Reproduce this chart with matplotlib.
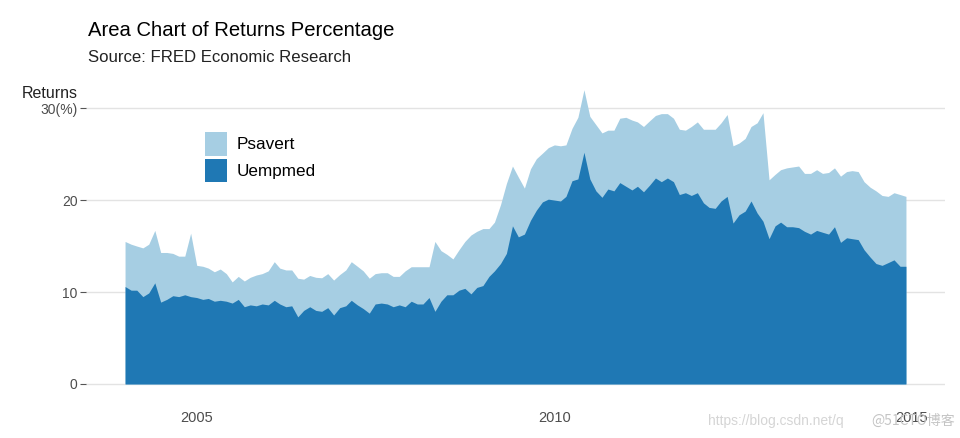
import numpy as np
import pandas as pd
import matplotlib
matplotlib.use("Agg")
import matplotlib.pyplot as plt
import matplotlib.dates as mdates
from matplotlib.patches import Patch

# ---- data (monthly, Jan 2004 .. Dec 2014) ----
dates = pd.date_range("2004-01-01", "2014-12-01", freq="MS")

uempmed = [
    10.6, 10.2, 10.2, 9.5, 9.9, 11.0, 8.9, 9.2, 9.6, 9.5, 9.7, 9.5,
    9.4, 9.2, 9.3, 9.0, 9.1, 9.0, 8.8, 9.2, 8.4, 8.6, 8.5, 8.7,
    8.6, 9.1, 8.7, 8.4, 8.5, 7.3, 8.0, 8.4, 8.0, 7.9, 8.3, 7.5,
    8.3, 8.5, 9.1, 8.6, 8.2, 7.7, 8.7, 8.8, 8.7, 8.4, 8.6, 8.4,
    9.0, 8.7, 8.7, 9.4, 7.9, 9.0, 9.7, 9.7, 10.2, 10.4, 9.8, 10.5,
    10.7, 11.7, 12.3, 13.1, 14.2, 17.2, 16.0, 16.3, 17.8, 18.9, 19.8, 20.1,
    20.0, 19.9, 20.4, 22.1, 22.3, 25.2, 22.3, 21.0, 20.3, 21.2, 21.0, 21.9,
    21.5, 21.1, 21.5, 20.9, 21.6, 22.4, 22.0, 22.4, 22.0, 20.6, 20.8, 20.5,
    20.8, 19.7, 19.2, 19.1, 19.9, 20.4, 17.5, 18.4, 18.8, 19.9, 18.6, 17.7,
    15.8, 17.2, 17.6, 17.1, 17.1, 17.0, 16.6, 16.3, 16.7, 16.5, 16.3, 17.1,
    15.4, 15.9, 15.8, 15.7, 14.6, 13.8, 13.1, 12.9, 13.2, 13.5, 12.8, 12.8,
]

psavert = [
    4.9, 5.0, 4.8, 5.3, 5.3, 5.7, 5.4, 5.1, 4.6, 4.4, 4.2, 6.9,
    3.5, 3.6, 3.3, 3.2, 3.4, 3.0, 2.3, 2.5, 2.8, 3.0, 3.35, 3.3,
    3.7, 4.2, 3.9, 4.0, 3.9, 4.2, 3.4, 3.4, 3.6, 3.65, 3.7, 3.8,
    3.6, 3.9, 4.2, 4.2, 4.1, 3.8, 3.3, 3.3, 3.4, 3.3, 3.1, 3.9,
    3.75, 4.05, 4.05, 3.35, 7.6, 5.5, 4.4, 3.9, 4.4, 5.1, 6.4, 6.1,
    6.2, 5.2, 5.3, 6.4, 7.6, 6.5, 6.5, 5.0, 5.6, 5.6, 5.3, 5.6,
    6.0, 6.0, 5.6, 5.7, 6.7, 6.8, 6.8, 7.2, 7.0, 6.4, 6.6, 7.0,
    7.5, 7.6, 7.0, 7.1, 7.0, 6.8, 7.4, 7.0, 6.9, 7.1, 6.8, 7.5,
    7.7, 8.0, 8.5, 8.6, 8.5, 8.9, 8.4, 7.8, 7.9, 8.1, 9.8, 11.8,
    6.4, 5.6, 5.7, 6.4, 6.5, 6.7, 6.3, 6.6, 6.6, 6.4, 6.7, 6.4,
    7.2, 7.2, 7.4, 7.4, 7.4, 7.6, 7.9, 7.6, 7.2, 7.3, 7.8, 7.6,
]

series_names = ["Psavert", "Uempmed"]
series_colors = ["#A6CEE3", "#1F78B4"]
y_ticks = [0, 10, 20, 30]
y_ticklabels = ["0", "10", "20", "30(%)"]
x_tick_years = [2005, 2010, 2015]

title = "Area Chart of Returns Percentage"
subtitle = "Source: FRED Economic Research"
ylabel = "Returns"

plt.rcParams["font.family"] = ["Liberation Sans", "DejaVu Sans"]

W, H = 960, 438
fig = plt.figure(figsize=(W / 100, H / 100), dpi=100)
left, right, top, bottom = 86, 945, 75, 398.7
ax = fig.add_axes([left / W, 1 - bottom / H, (right - left) / W, (bottom - top) / H])

u = np.array(uempmed)
p = np.array(psavert)
total = u + p

ax.fill_between(dates, 0, total, color=series_colors[0], lw=0, zorder=2)
ax.fill_between(dates, 0, u, color=series_colors[1], lw=0, zorder=3)

d0 = mdates.date2num(dates[0])
d1 = mdates.date2num(dates[-1])
span = d1 - d0
ax.set_xlim(d0 - 0.05 * span, d1 + 0.05 * span)
ymax = total.max()
ax.set_ylim(-0.05 * ymax, ymax * 1.05)

for s in ax.spines.values():
    s.set_visible(False)

ax.set_yticks(y_ticks)
ax.set_yticklabels(y_ticklabels)
ax.yaxis.grid(True, color="#E3E3E3", lw=1.0, zorder=0)
ax.xaxis.grid(False)
ax.set_axisbelow(True)
ax.tick_params(axis="y", length=4, color="#555555", width=0.8, pad=2,
               labelsize=10, labelcolor="#4D4D4D")

ax.set_xticks([mdates.date2num(pd.Timestamp(f"{y}-01-01")) for y in x_tick_years])
ax.set_xticklabels([str(y) for y in x_tick_years])
ax.tick_params(axis="x", length=0, pad=9, labelsize=10.5, labelcolor="#4D4D4D")

fig.text(88 / W, 1 - 30 / H, title, fontsize=14.6, color="black", va="center", ha="left")
fig.text(88 / W, 1 - 57 / H, subtitle, fontsize=12.1, color="#222222", va="center", ha="left")
fig.text(78 / W, 1 - 93 / H, ylabel, fontsize=11.5, color="#222222", va="center", ha="right")

handles = [Patch(facecolor=c, edgecolor="none") for c in series_colors]
leg = ax.legend(handles, series_names, loc="upper left",
                bbox_to_anchor=(205 / W, 1 - 132 / H), bbox_transform=fig.transFigure,
                frameon=False, fontsize=12.3, handlelength=1.3, handleheight=1.75,
                labelspacing=0.18, handletextpad=0.55, borderpad=0, borderaxespad=0)

# watermark
fig.text(708 / W, 1 - 421 / H, "https://blog.csdn.net/q", fontsize=10, color="#D5D5D5",
         va="center", ha="left")
fig.text(955 / W, 1 - 421 / H, "@51CTO博客", fontsize=10, color="#C4C4C4",
         va="center", ha="right", family=["Noto Sans CJK SC", "DejaVu Sans"])

fig.savefig("out.png", dpi=100)
